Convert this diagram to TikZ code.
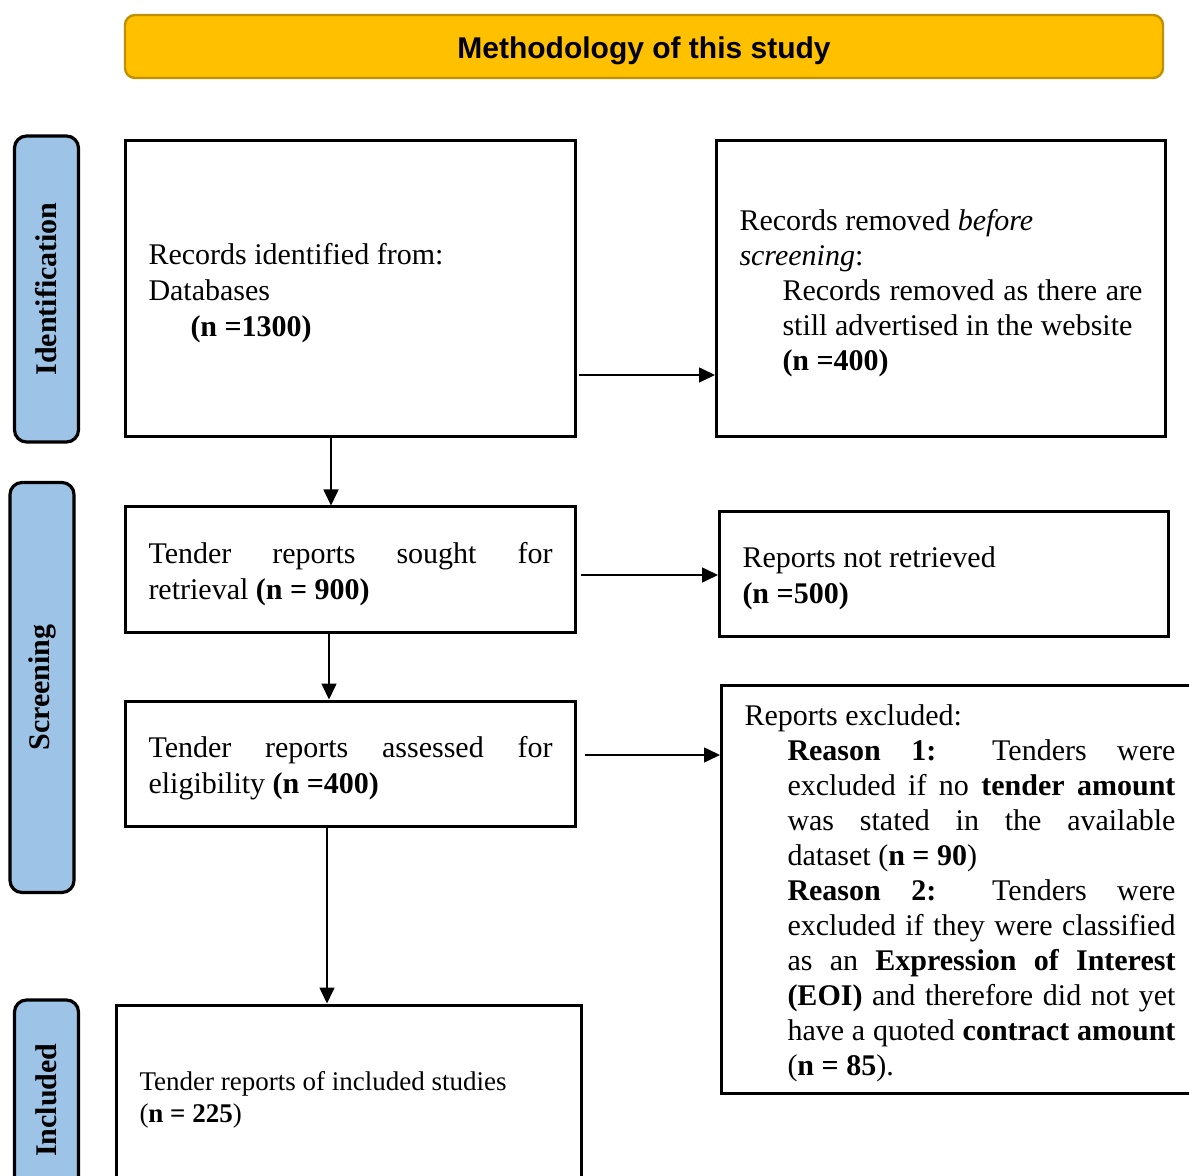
\documentclass[tikz,border=0pt]{standalone}
\usepackage{fontspec}
\setmainfont{Liberation Serif}
\setsansfont{Liberation Sans}
\usepackage{tikz}
\usetikzlibrary{arrows.meta}
\definecolor{hdrgold}{HTML}{FFC000}
\definecolor{hdredge}{HTML}{BF9000}
\definecolor{barblue}{HTML}{9DC3E6}

\begin{document}
\begin{tikzpicture}[x=0.5pt,y=-0.5pt,
  box/.style={draw,line width=1.5pt,inner xsep=11.5pt,inner ysep=0pt,align=justify,
    font=\fontsize{15}{18}\selectfont,execute at begin node={\rule{0pt}{15pt}}},
  bar/.style={draw,line width=1.6pt,fill=barblue,rounded corners=6pt,minimum height=32pt,
    font=\fontsize{15}{18}\selectfont\bfseries,rotate=90},
  arr/.style={line width=0.8pt,-{Triangle[length=8pt,width=7.5pt]}}]
\path[use as bounding box,clip] (0,0) rectangle (1189,1176);
% header
\node[draw=hdredge,line width=1.2pt,fill=hdrgold,rounded corners=5pt,minimum width=519pt,
  minimum height=31.5pt,font=\fontsize{15}{18}\selectfont\sffamily\bfseries] (hdr) at (644,46.5)
  {\raisebox{-2pt}[\height][\depth]{Methodology of this study}};
% phase bars
\node[bar,minimum width=153pt] (idbar) at (46.5,289) {Identification};
\node[bar,minimum width=205pt] (scrbar) at (42,687.5) {Screening};
\node[bar,minimum width=100pt] (incbar) at (46.5,1100) {Included};
% boxes
\node[box,text width=202pt,minimum height=148pt] (ident) at (350.5,289)
  {Records identified from:\\ Databases\\ \hspace*{21pt}\textbf{(n =1300)}};
\node[box,text width=201.5pt,minimum height=148pt,font=\fontsize{15}{17.5}\selectfont] (removed) at (941,289)
  {Records removed \textit{before}\\ \textit{screening}:\par
  {\leftskip=21.5pt Records removed as there are\linebreak still advertised in the website\\ \textbf{(n =400)}\par}};
\node[box,text width=202pt,minimum height=62.5pt] (sought) at (350.5,569.5)
  {Tender reports sought for\linebreak retrieval \textbf{(n = 900)}};
\node[box,text width=201.5pt,minimum height=62pt] (notret) at (944,574)
  {Reports not retrieved\\ \textbf{(n =500)}};
\node[box,text width=202pt,minimum height=62.5pt] (assessed) at (350.5,763.5)
  {Tender reports assessed for\linebreak eligibility \textbf{(n =400)}};
\node[box,text width=215.5pt,minimum height=204pt,font=\fontsize{15}{17.5}\selectfont] (excluded) at (960,889)
  {Reports excluded:\par
  {\leftskip=21.5pt \textbf{Reason 1:} Tenders were\linebreak excluded if no \textbf{tender amount}\linebreak
  was stated in the available\linebreak dataset (\textbf{n = 90})\\
  \textbf{Reason 2:} Tenders were\linebreak excluded if they were classified\linebreak
  as an \textbf{Expression of Interest}\linebreak \textbf{(EOI)} and therefore did not yet\linebreak
  have a quoted \textbf{contract amount}\linebreak (\textbf{n = 85}).\par}};
\node[box,text width=209.5pt,minimum height=89pt,font=\fontsize{13.5}{16}\selectfont] (included) at (349,1094)
  {Tender reports of included studies\\ (\textbf{n = 225})};
% arrows
\draw[arr] ([xshift=-9.75pt]ident.south) -- ([xshift=-9.75pt]ident.south |- sought.north);
\draw[arr] ([xshift=-10.75pt]sought.south) -- ([xshift=-10.75pt]sought.south |- assessed.north);
\draw[arr] ([xshift=-11.75pt]assessed.south) -- ([xshift=-11.75pt]assessed.south |- included.north);
\draw[arr,shorten <=1pt] ([yshift=-43pt]ident.east) -- ([yshift=-43pt]ident.east -| removed.west);
\draw[arr,shorten <=2pt] ([yshift=-2.75pt]sought.east) -- ([yshift=-2.75pt]sought.east -| notret.west);
\draw[arr,shorten <=4pt] ([yshift=4.25pt]assessed.east) -- ([yshift=4.25pt]assessed.east -| excluded.west);
\end{tikzpicture}
\end{document}
